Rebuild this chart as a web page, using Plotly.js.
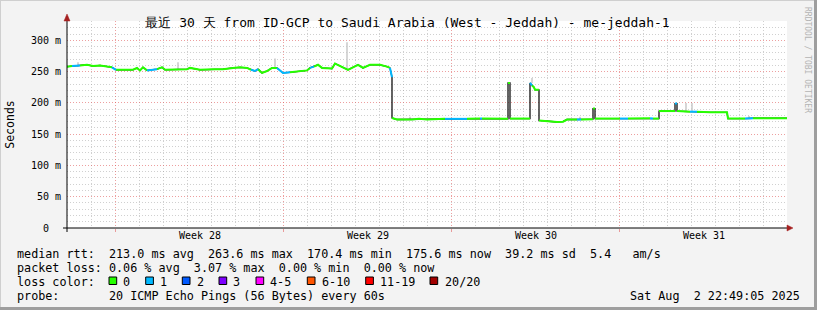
<!DOCTYPE html>
<html><head><meta charset="utf-8">
<script src="https://cdn.plot.ly/plotly-3.0.1.min.js"></script>
<style>html,body{margin:0;padding:0;background:#f3f3f3;}</style>
</head><body><div id="chart" style="width:817px;height:310px;"></div>
<script>
// ---- data (hours since start of the 30-day window, median RTT in ms, lost pings of 20) ----
const hours = [0,5,13,20,26,33,45,49,66,70,73,76,80,90,95,98,120,123,133,146,156,166,173,180,184,188,191,195,200,205,210,216,223,240,243,247,251,255,265,268,276,281,291,296,303,313,320,323,325,
  325,330,345,352,360,378,400,413,415,441,441,443,443,463,463,465,467,468,472,472,480,482,490,496,500,510,514,526,526,528,528,553,561,583,586,592,592,608,608,610,610,623,630,643,660,661,678,686,720];
const medianMs = [258,259,260,261,259,260,257,253,253,256,252,257,252,254,257,253,254,256,253,254,254,256,257,256,253,251,254,248,251,256,256,248,249,252,256,258,261,256,255,263,257,253,261,256,261,261,258,256,241,
  176,173.5,173.5,174.5,173.5,174.5,174.5,175,175,174.5,232,232,175,175,232,228,225,221,221,172,171,170,169.5,170,173.5,173.5,173.5,174,191,191,175,175,175,175.5,175,175,187,187,199,199,187,186,186,185,185,175,175,175.5,175.6];
const lossPings = [0,1,0,0,0,0,1,0,0,0,0,0,1,0,0,0,0,0,0,0,0,0,0,0,1,1,0,0,0,0,1,1,0,0,1,0,0,0,0,0,0,0,0,0,0,0,0,1,0,
  0,0,0,0,0,1,0,1,0,0,0,0,0,0,1,0,0,0,0,0,0,0,0,0,0,1,0,0,0,0,0,1,0,1,0,0,0,0,1,0,0,1,0,0,0,0,1,0,0];
const smokeHours = [11,111,208,280,343,465,513,619,625,682];
const smokeLow   = [258,254,256,255,174,232,174,187,187,176];
const smokeHigh  = [265,265,271,297,178,240,178,200,200,179];

const weekStarts  = [48,216,384,552];
const weekCenters = [133,301,469,637];
const weekLabels  = ['Week 28','Week 29','Week 30','Week 31'];
const yTickVals = [0,50,100,150,200,250,300];
const yTickText = ['0  ','50 m','100 m','150 m','200 m','250 m','300 m'];

const lossLabels = ['0','1','2','3','4-5','6-10','11-19','20/20'];
const lossColors = ['#26ff00','#00b8ff','#0059ff','#7e00ff','#ff00ff','#ff5500','#ff0000','#a10000'];

const titleText = '最近 30 天 from ID-GCP to Saudi Arabia (West - Jeddah) - me-jeddah-1';
const legendLines = [
  'median rtt:  213.0 ms avg  263.6 ms max  170.4 ms min  175.6 ms now  39.2 ms sd  5.4   am/s',
  'packet loss: 0.06 % avg  3.07 % max  0.00 % min  0.00 % now',
  'loss color:',
  'probe:       20 ICMP Echo Pings (56 Bytes) every 60s'
];
const dateText = 'Sat Aug  2 22:49:05 2025';
const watermark = 'RRDTOOL / TOBI OETIKER';

// ---- helpers ----
const MONO = 'DejaVu Sans Mono, monospace';
const nb = s => s.replace(/ /g, '\u00a0');
const L = 67, R = 787, T = 21, B = 228;
const px = v => (v - L) / (R - L);
const py = v => (B - v) / (B - T);

function segTrace(pred, color, width) {
  const xs = [], ys = [];
  let open = false;
  for (let i = 0; i < hours.length - 1; i++) {
    const ok = hours[i + 1] > hours[i] && pred(lossPings[i]);
    if (ok) {
      if (!open) { xs.push(hours[i]); ys.push(medianMs[i]); }
      xs.push(hours[i + 1]); ys.push(medianMs[i + 1]);
      open = true;
    } else if (open) { xs.push(null); ys.push(null); open = false; }
  }
  return {type:'scatter', mode:'lines', x:xs, y:ys, line:{color:color, width:width}, hoverinfo:'skip', connectgaps:false, showlegend:false};
}

const sx = [], sy = [];
smokeHours.forEach((h, i) => { sx.push(h, h, null); sy.push(smokeLow[i], smokeHigh[i], null); });

const traces = [
  {type:'scatter', mode:'lines', x:sx, y:sy, line:{color:'#c8c8c8', width:1.5}, hoverinfo:'skip', showlegend:false},
  {type:'scatter', mode:'lines', x:hours, y:medianMs, line:{color:'#111111', width:1.3}, hoverinfo:'skip', showlegend:false},
  segTrace(l => l === 0, lossColors[0], 2),
  segTrace(l => l === 1, lossColors[1], 2),
  // invisible trace to activate xaxis2 (week boundary grid)
  {type:'scatter', mode:'lines', x:[0,720], y:[null,null], xaxis:'x2', yaxis:'y', hoverinfo:'skip', showlegend:false}
];

const dayLines = [];
for (let d = 24; d < 720; d += 24) if (!weekStarts.includes(d)) dayLines.push(d);
const minorY = [];
for (let v = 10; v <= 330; v += 10) if (v % 50 !== 0) minorY.push(v);

const GRID = 'rgba(150,150,150,0.45)';
const MGRID = 'rgba(222,80,80,0.55)';
const DASH = '1px,2px';

const shapes = [];
// frame
shapes.push({type:'line', xref:'paper', yref:'paper', x0:px(0), x1:px(817), y0:py(0.5), y1:py(0.5), line:{color:'#cfcfcf', width:1}});
shapes.push({type:'line', xref:'paper', yref:'paper', x0:px(0.5), x1:px(0.5), y0:py(0), y1:py(310), line:{color:'#cfcfcf', width:1}});
shapes.push({type:'line', xref:'paper', yref:'paper', x0:px(815.5), x1:px(815.5), y0:py(0), y1:py(310), line:{color:'#9e9e9e', width:3}});
shapes.push({type:'line', xref:'paper', yref:'paper', x0:px(0), x1:px(817), y0:py(308.5), y1:py(308.5), line:{color:'#9e9e9e', width:3}});
// axes with arrows
shapes.push({type:'line', xref:'paper', yref:'paper', x0:px(63), x1:px(789), y0:py(228), y1:py(228), line:{color:'#000', width:1}});
shapes.push({type:'line', xref:'paper', yref:'paper', x0:px(67), x1:px(67), y0:py(232), y1:py(19), line:{color:'#000', width:1}});
shapes.push({type:'path', xref:'paper', yref:'paper', path:`M ${px(787)} ${py(225)} L ${px(793)} ${py(228)} L ${px(787)} ${py(231)} Z`, fillcolor:'#a52020', line:{color:'#a52020', width:0.5}});
shapes.push({type:'path', xref:'paper', yref:'paper', path:`M ${px(64)} ${py(21)} L ${px(67)} ${py(14)} L ${px(70)} ${py(21)} Z`, fillcolor:'#a52020', line:{color:'#a52020', width:0.5}});

const annotations = [];
legendLines.forEach((t, i) => {
  annotations.push({xref:'paper', yref:'paper', x:px(16), y:py(254 + 14 * i), xanchor:'left', yanchor:'middle', text:nb(t), showarrow:false, borderpad:0, font:{family:MONO, size:11.75, color:'#000'}});
});
annotations.push({xref:'paper', yref:'paper', x:px(801), y:py(296), xanchor:'right', yanchor:'middle', text:nb(dateText), showarrow:false, borderpad:0, font:{family:MONO, size:11.75, color:'#000'}});
annotations.push({xref:'paper', yref:'paper', x:px(807), y:py(60), xanchor:'center', yanchor:'middle', text:nb(watermark), textangle:90, showarrow:false, borderpad:0, font:{family:MONO, size:8, color:'#b4b4b4'}});

const boxX = [109,145.7,182.3,219,256,307.3,365.7,430];
const labX = [121.5,158.5,195.5,232,269,321,379,444];
lossLabels.forEach((lab, i) => {
  shapes.push({type:'rect', xref:'paper', yref:'paper', x0:px(boxX[i]), x1:px(boxX[i] + 7.7), y0:py(277), y1:py(284.5), fillcolor:lossColors[i], line:{color:'#000', width:1}});
  annotations.push({xref:'paper', yref:'paper', x:px(labX[i]), y:py(282), xanchor:'left', yanchor:'middle', text:nb(lab), showarrow:false, borderpad:0, font:{family:MONO, size:11.75, color:'#000'}});
});

const layout = {
  width:817, height:310,
  margin:{l:L, r:817 - R, t:T, b:310 - B, pad:0},
  paper_bgcolor:'#f3f3f3', plot_bgcolor:'#ffffff',
  showlegend:false,
  title:{text:titleText, font:{family:MONO, size:13, color:'#000'}, xref:'container', x:407.5/817, xanchor:'center', yref:'container', y:1 - 22/310, yanchor:'middle'},
  xaxis:{range:[0,720], tickmode:'array', tickvals:weekCenters, ticktext:weekLabels, ticks:'', showgrid:false, zeroline:false, showline:false,
    tickfont:{family:MONO, size:10, color:'#000'}, fixedrange:true,
    minor:{tickmode:'array', tickvals:dayLines, showgrid:true, gridcolor:GRID, griddash:DASH, gridwidth:1, ticks:''}},
  xaxis2:{range:[0,720], overlaying:'x', anchor:'y', side:'bottom', tickmode:'array', tickvals:weekStarts, showticklabels:false,
    ticks:'outside', ticklen:3, tickcolor:MGRID, showgrid:true, gridcolor:MGRID, griddash:DASH, gridwidth:1, zeroline:false, showline:false},
  yaxis:{range:[0,331], tickmode:'array', tickvals:yTickVals, ticktext:yTickText.map(nb), ticks:'', ticklabelstandoff:5, showgrid:true, gridcolor:MGRID, griddash:DASH, gridwidth:1,
    zeroline:false, showline:false, tickfont:{family:MONO, size:10, color:'#000'}, automargin:false,
    minor:{tickmode:'array', tickvals:minorY, showgrid:true, gridcolor:GRID, griddash:DASH, gridwidth:1, ticks:''},
    title:{text:'Seconds', font:{family:MONO, size:11.5, color:'#000'}, standoff:13}},
  shapes:shapes, annotations:annotations
};

Plotly.newPlot('chart', traces, layout, {staticPlot:true, displayModeBar:false});
</script></body></html>
